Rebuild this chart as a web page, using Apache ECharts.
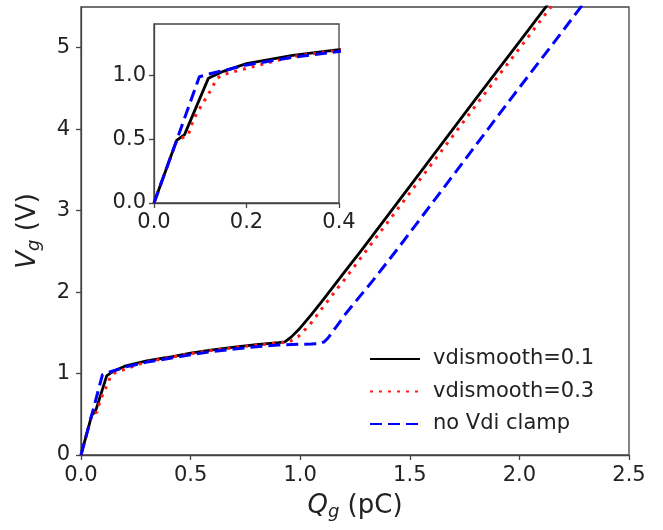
<!DOCTYPE html>
<html>
<head>
<meta charset="utf-8">
<script src="https://cdn.jsdelivr.net/npm/echarts@6/dist/echarts.min.js"></script>
<style>
html,body{margin:0;padding:0;background:#fff;}
#chart{width:663px;height:530px;}
</style>
</head>
<body>
<div id="chart"></div>
<script>
// ---- data ----
var seriesNames = ['vdismooth=0.1', 'vdismooth=0.3', 'no Vdi clamp'];

var qBlack = [0, 0.049, 0.066, 0.1175, 0.15, 0.2, 0.3, 0.4, 0.5, 0.6, 0.7, 0.8, 0.9, 0.93, 0.96, 1.0, 1.05, 1.1, 1.2, 1.287, 1.548, 1.80, 2.005, 2.16];
var vBlack = [0, 0.49, 0.535, 0.975, 1.03, 1.09, 1.155, 1.20, 1.25, 1.29, 1.325, 1.355, 1.38, 1.39, 1.45, 1.56, 1.72, 1.89, 2.24, 2.54, 3.47, 4.37, 5.09, 5.64];

var qRed = [0, 0.049, 0.074, 0.081, 0.092, 0.103, 0.114, 0.125, 0.135, 0.146, 0.186, 0.3, 0.4, 0.5, 0.6, 0.7, 0.8, 0.9, 0.95, 0.99, 1.044, 1.097, 1.151, 1.204, 1.31, 1.571, 1.823, 2.028, 2.183];
var vRed = [0, 0.49, 0.53, 0.61, 0.70, 0.765, 0.83, 0.895, 0.97, 1.0, 1.04, 1.145, 1.195, 1.245, 1.285, 1.32, 1.35, 1.375, 1.39, 1.45, 1.60, 1.79, 1.98, 2.16, 2.54, 3.47, 4.37, 5.09, 5.64];

var qBlue = [0, 0.049, 0.098, 0.1175, 0.15, 0.2, 0.3, 0.4, 0.5, 0.6, 0.7, 0.8, 0.9, 1.0, 1.05, 1.09, 1.11, 1.128, 1.166, 1.212, 1.273, 1.334, 1.447, 1.708, 1.96, 2.165, 2.32];
var vBlue = [0, 0.49, 0.987, 1.008, 1.035, 1.08, 1.14, 1.185, 1.23, 1.27, 1.30, 1.33, 1.35, 1.36, 1.362, 1.367, 1.39, 1.44, 1.58, 1.75, 1.95, 2.15, 2.54, 3.47, 4.37, 5.09, 5.64];

var mainXTicks = [0, 0.5, 1.0, 1.5, 2.0, 2.5];
var mainYTicks = [0, 1, 2, 3, 4, 5];
var insetXTicks = [0, 0.2, 0.4];
var insetYTicks = [0, 0.5, 1.0];

function pairs(xs, ys) { return xs.map(function (x, i) { return [x, ys[i]]; }); }

var FONT = 'DejaVu Sans';
var frameColor = '#444';
var textColor = '#222';

function axisCommon(ticks, digits, fontSize, margin) {
  return {
    axisLine: { show: true, onZero: false, lineStyle: { color: frameColor, width: 1.3 } },
    axisTick: { show: true, inside: false, length: 5, customValues: ticks, lineStyle: { color: frameColor, width: 1.3 } },
    axisLabel: {
      customValues: ticks, margin: margin, color: textColor, fontFamily: FONT, fontSize: fontSize,
      formatter: function (v) { return Number(v).toFixed(digits); }
    },
    splitLine: { show: false }
  };
}

var styles = [
  { color: '#000000', width: 2.8, type: 'solid' },
  { color: '#ff1a1a', width: 3, type: [3, 6] },
  { color: '#0000ff', width: 3, type: [12, 6] }
];
var dataSets = [pairs(qBlack, vBlack), pairs(qRed, vRed), pairs(qBlue, vBlue)];

var series = [];
[0, 1].forEach(function (g) {
  dataSets.forEach(function (d, i) {
    series.push({
      name: seriesNames[i], type: 'line', xAxisIndex: g, yAxisIndex: g,
      data: d, showSymbol: false, symbol: 'none', clip: true,
      lineStyle: { color: styles[i].color, width: styles[i].width, type: styles[i].type, cap: 'butt' },
      itemStyle: { color: styles[i].color },
      z: 2 + i + g * 10
    });
  });
});

var subRich = {
  i: { fontFamily: FONT, fontStyle: 'italic', fontSize: 26, lineHeight: 30, color: textColor },
  s: { fontFamily: FONT, fontStyle: 'italic', fontSize: 18, lineHeight: 14, verticalAlign: 'bottom', color: textColor },
  n: { fontFamily: FONT, fontSize: 26, lineHeight: 30, color: textColor }
};

var option = {
  animation: false,
  backgroundColor: '#fff',
  grid: [
    { left: 81, top: 7, width: 548, height: 448, show: true, borderColor: frameColor, borderWidth: 1.3, backgroundColor: '#fff', containLabel: false },
    { left: 154, top: 24, width: 185, height: 179, show: true, borderColor: frameColor, borderWidth: 1.3, backgroundColor: '#fff', containLabel: false, z: 5 }
  ],
  xAxis: [
    Object.assign({ type: 'value', gridIndex: 0, min: 0, max: 2.5, interval: 0.5,
      name: '{i|Q}{s|g}{n| (pC)}', nameLocation: 'middle', nameGap: 36,
      nameTextStyle: { rich: subRich } }, axisCommon(mainXTicks, 1, 21, 10)),
    Object.assign({ type: 'value', gridIndex: 1, min: 0, max: 0.4, interval: 0.2, z: 6 }, axisCommon(insetXTicks, 1, 21, 9))
  ],
  yAxis: [
    Object.assign({ type: 'value', gridIndex: 0, min: 0, max: 5.5, interval: 1,
      name: '{i|V}{s|g}{n| (V)}', nameLocation: 'middle', nameGap: 38, nameRotate: 90,
      nameTextStyle: { rich: subRich } }, axisCommon(mainYTicks, 0, 21, 11)),
    Object.assign({ type: 'value', gridIndex: 1, min: 0, max: 1.4, interval: 0.5, z: 6 }, axisCommon(insetYTicks, 1, 21, 8))
  ],
  legend: {
    data: seriesNames,
    orient: 'vertical',
    left: 364, top: 343,
    itemWidth: 50, itemHeight: 20, itemGap: 10.5,
    itemStyle: { opacity: 0 },
    textStyle: { fontFamily: FONT, fontSize: 21, color: textColor, lineHeight: 22, padding: [0, 0, 0, 8] },
    selectedMode: false
  },
  series: series
};

var chart = echarts.init(document.getElementById('chart'), null, { renderer: 'canvas' });
chart.setOption(option);
</script>
</body>
</html>
